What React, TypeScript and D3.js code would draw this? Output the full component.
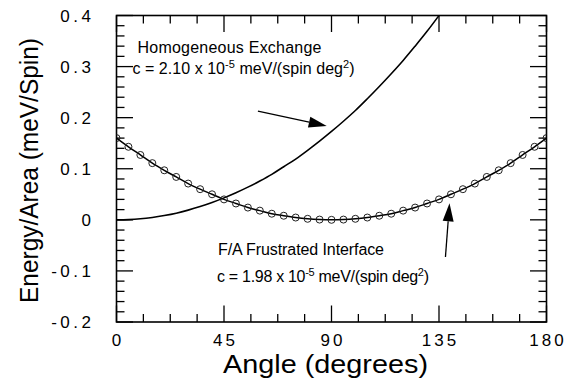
import React from "react";
import * as d3 from "d3";

// Angles (degrees) and energies (meV/spin)
const frustAngles = [0,5,10,15,20,25,30,35,40,45,50,55,60,65,70,75,80,85,90,95,100,105,110,115,120,125,130,135,140,145,150,155,160,165,170,175,180];
const frustValues = [0.160,0.143,0.127,0.111,0.097,0.084,0.071,0.060,0.050,0.040,0.032,0.024,0.018,0.012,0.008,0.0045,0.002,0.0005,0,0.0005,0.002,0.0045,0.008,0.012,0.018,0.024,0.032,0.040,0.050,0.060,0.071,0.084,0.097,0.111,0.127,0.143,0.160];

const homoAngles = [0,5,10,15,20,25,30,35,40,45,50,55,60,65,70,75,80,85,90,95,100,105,110,115,120,125,130,135,140];
const homoValues = [0,0.0005,0.002,0.0047,0.0084,0.013,0.019,0.026,0.034,0.043,0.053,0.064,0.076,0.089,0.104,0.119,0.136,0.154,0.173,0.193,0.214,0.237,0.261,0.286,0.312,0.340,0.369,0.400,0.432];

const xTicks = [0,45,90,135,180];
const yTicks = [-0.2,-0.1,0,0.1,0.2,0.3,0.4];
const yTickLabels = ["-0.2","-0.1","0","0.1","0.2","0.3","0.4"];

const FONT = "'Liberation Sans', Arial, Helvetica, sans-serif";

export default function App() {
  const W = 569, H = 385;
  const L = 116.5, R = 546.5, T = 15.5, B = 322;
  const x = d3.scaleLinear().domain([0, 180]).range([L, R]);
  const y = d3.scaleLinear().domain([-0.2, 0.4]).range([B, T]);

  const line = d3.line<[number, number]>()
    .x(d => x(d[0])).y(d => y(d[1])).curve(d3.curveCatmullRom);
  const frust: [number, number][] = frustAngles.map((a, i) => [a, frustValues[i]]);
  const homo: [number, number][] = homoAngles.map((a, i) => [a, homoValues[i]]);

  const xMinor = d3.range(0, 180.01, 11.25);
  const yMinor = d3.range(-0.2, 0.4001, 0.02);
  const MAJ = 16.5, MIN = 8;

  const arrow = (t0: [number, number], t1: [number, number], key: string) => {
    const x0 = x(t0[0]), y0 = y(t0[1]), x1 = x(t1[0]), y1 = y(t1[1]);
    const dx = x1 - x0, dy = y1 - y0, len = Math.hypot(dx, dy);
    const ux = dx / len, uy = dy / len;
    const hl = 18, hw = 5.5;
    const bx = x1 - ux * hl, by = y1 - uy * hl;
    const pts = [[x1, y1], [bx - uy * hw, by + ux * hw], [bx + uy * hw, by - ux * hw]];
    return (
      <g key={key}>
        <line x1={x0} y1={y0} x2={bx} y2={by} stroke="#000" strokeWidth={1.3} />
        <polygon points={pts.map(p => p.join(",")).join(" ")} fill="#000" />
      </g>
    );
  };

  return (
    <svg width={W} height={H} style={{ position: "absolute", left: 0, top: 0, background: "#fff" }}>
      <defs>
        <clipPath id="plotclip">
          <rect x={L} y={T} width={R - L} height={B - T} />
        </clipPath>
      </defs>
      {/* ticks */}
      <g stroke="#000" strokeWidth={1.3}>
        {xMinor.map((v, i) => {
          const major = xTicks.some(t => Math.abs(t - v) < 1e-6);
          const len = major ? MAJ : MIN;
          return (
            <g key={"xt" + i}>
              <line x1={x(v)} x2={x(v)} y1={B} y2={B - len} />
              <line x1={x(v)} x2={x(v)} y1={T} y2={T + len} />
            </g>
          );
        })}
        {yMinor.map((v, i) => {
          const major = yTicks.some(t => Math.abs(t - v) < 1e-6);
          const len = major ? MAJ : MIN;
          return (
            <g key={"yt" + i}>
              <line x1={L} x2={L + len} y1={y(v)} y2={y(v)} />
              <line x1={R} x2={R - len} y1={y(v)} y2={y(v)} />
            </g>
          );
        })}
      </g>
      <rect x={L} y={T} width={R - L} height={B - T} fill="none" stroke="#000" strokeWidth={1.6} />

      {/* tick labels */}
      <g fontFamily={FONT} fontSize={17} fill="#000">
        {xTicks.map((t, i) => (
          <text key={"xl" + i} x={x(t) + 1.5} y={346} textAnchor="middle" letterSpacing={3}>{t}</text>
        ))}
        {yTicks.map((t, i) => (
          <text key={"yl" + i} x={94.5} y={y(t) + 6} textAnchor="end" letterSpacing={3.5}>{yTickLabels[i]}</text>
        ))}
      </g>

      {/* axis titles */}
      <text x={(223 + 428) / 2} y={373} textAnchor="middle" fontFamily={FONT} fontSize={25}
        textLength={205} lengthAdjust="spacingAndGlyphs">Angle (degrees)</text>
      <text transform={`translate(38,${(38 + 303) / 2}) rotate(-90)`} textAnchor="middle" fontFamily={FONT} fontSize={25}
        textLength={265} lengthAdjust="spacingAndGlyphs">Energy/Area (meV/Spin)</text>

      {/* curves */}
      <g clipPath="url(#plotclip)">
        <path d={line(homo) || ""} fill="none" stroke="#000" strokeWidth={1.6} />
        <path d={line(frust) || ""} fill="none" stroke="#000" strokeWidth={1.5} />
        {frust.map((d, i) => (
          <circle key={"c" + i} cx={x(d[0])} cy={y(d[1])} r={3.5} fill="none" stroke="#222" strokeWidth={1} />
        ))}
      </g>

      {/* annotations */}
      <g fontFamily={FONT} fontSize={16} fill="#000">
        <text x={137.5} y={53} textLength={184} lengthAdjust="spacing">Homogeneous Exchange</text>
        <text x={132.5} y={74} textLength={222} lengthAdjust="spacing">
          <tspan>c = 2.10 x 10</tspan>
          <tspan fontSize={11} dy={-6.5}>-5</tspan>
          <tspan dy={6.5}> meV/(spin deg</tspan>
          <tspan fontSize={11} dy={-6.5}>2</tspan>
          <tspan dy={6.5}>)</tspan>
        </text>
        <text x={218} y={255} textLength={166} lengthAdjust="spacing">F/A Frustrated Interface</text>
        <text x={217} y={282} textLength={212} lengthAdjust="spacing">
          <tspan>c = 1.98 x 10</tspan>
          <tspan fontSize={11} dy={-6.5}>-5</tspan>
          <tspan dy={6.5}> meV/(spin deg</tspan>
          <tspan fontSize={11} dy={-6.5}>2</tspan>
          <tspan dy={6.5}>)</tspan>
        </text>
      </g>
      {arrow([59.2, 0.213], [88.0, 0.1836], "a1")}
      {arrow([137.7, -0.0727], [139.4, 0.0324], "a2")}
    </svg>
  );
}
